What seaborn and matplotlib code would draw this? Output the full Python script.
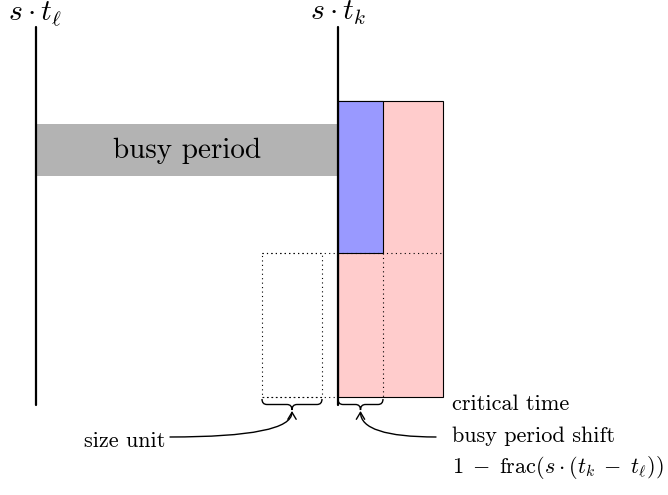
import matplotlib
matplotlib.use("Agg")
import matplotlib.pyplot as plt
import seaborn as sns
from matplotlib.patches import Rectangle, FancyArrowPatch, PathPatch
from matplotlib.path import Path

sns.set_theme(style="white")
plt.rcParams['font.family'] = ['cmr10', 'DejaVu Serif']
plt.rcParams['mathtext.fontset'] = 'cm'
plt.rcParams['axes.unicode_minus'] = False
plt.rcParams['text.color'] = 'black'

# ---- diagram data (pixel-like units, y downwards) ----
time_lines_x = [36, 338]
time_lines_y = [27, 405]
time_labels = [r"$s\cdot t_\ell$", r"$s\cdot t_k$"]
label_x = [35, 338]

busy_rect = [36, 124, 338, 176]        # x0, y0, x1, y1
busy_text = "busy period"
critical_rect = [338, 101, 443, 397]
shift_rect = [338, 101, 383, 253]
unit_rect = [262, 253, 322, 397]
dotted_h = [(262, 443, 253), (262, 338, 397)]
dotted_v = [(383, 253, 397)]
braces = [(262, 322, 399), (338, 383, 399)]
notes = ["critical time", "busy period shift",
         r"$1\;-\;\mathrm{frac}(s\cdot(t_k\;-\;t_\ell))$"]
notes_y = [410, 442, 473]
notes_x = 452
unit_label = "size unit"

fig = plt.figure(figsize=(6.68, 4.95), dpi=100)
ax = fig.add_axes([0, 0, 1, 1])
ax.set_xlim(0, 668)
ax.set_ylim(495, 0)
ax.axis('off')

def rect(r, **kw):
    x0, y0, x1, y1 = r
    ax.add_patch(Rectangle((x0, y0), x1 - x0, y1 - y0, **kw))

rect(busy_rect, facecolor='#b3b3b3', edgecolor='none', zorder=1)
ax.text((busy_rect[0] + busy_rect[2]) / 2, (busy_rect[1] + busy_rect[3]) / 2 + 1,
        busy_text, fontsize=21, ha='center', va='center', zorder=3)
rect(critical_rect, facecolor='#ffcccc', edgecolor='black', linewidth=0.8, zorder=1)
rect(shift_rect, facecolor='#9999ff', edgecolor='black', linewidth=0.8, zorder=2)
rect(unit_rect, facecolor='none', edgecolor='black', linewidth=0.8, linestyle=(0, (1, 3)), zorder=2)
for x0, x1, y in dotted_h:
    ax.plot([x0, x1], [y, y], color='black', linewidth=0.8, linestyle=(0, (1, 3)), zorder=2)
for x, y0, y1 in dotted_v:
    ax.plot([x, x], [y0, y1], color='black', linewidth=0.8, linestyle=(0, (1, 3)), zorder=2)

for x, lab, lx in zip(time_lines_x, time_labels, label_x):
    ax.plot([x, x], time_lines_y, color='black', linewidth=1.6, zorder=4)
    ax.text(lx, 20, lab, fontsize=21.5, ha='center', va='baseline')

def brace(x0, x1, y0, d=11, a=5):
    xm = (x0 + x1) / 2
    ym = y0 + d / 2
    verts = [(x0, y0), (x0, ym), (x0 + a, ym),
             (xm - a, ym),
             (xm, ym), (xm, y0 + d),
             (xm, ym), (xm + a, ym),
             (x1 - a, ym),
             (x1, ym), (x1, y0)]
    codes = [Path.MOVETO, Path.CURVE3, Path.CURVE3,
             Path.LINETO,
             Path.CURVE3, Path.CURVE3,
             Path.CURVE3, Path.CURVE3,
             Path.LINETO,
             Path.CURVE3, Path.CURVE3]
    ax.add_patch(PathPatch(Path(verts, codes), facecolor='none', edgecolor='black', linewidth=1.0, zorder=5))
    return xm, y0 + d

tips = [brace(*b) for b in braces]

for x, y, t in zip([notes_x] * 3, notes_y, notes):
    ax.text(x, y, t, fontsize=16, ha='left', va='baseline')
ax.text(165, 447, unit_label, fontsize=16, ha='right', va='baseline')

# arrows
arrow_starts = [(170, 437), (436, 437)]
for (sx, sy), (tx, ty) in zip(arrow_starts, tips):
    ax.add_patch(FancyArrowPatch((sx, sy), (tx, ty + 1),
                                 connectionstyle="angle3,angleA=0,angleB=90",
                                 arrowstyle="->,head_length=5,head_width=3",
                                 color='black', linewidth=1.0, shrinkA=0, shrinkB=0, zorder=5))

fig.savefig("out.png", dpi=100)
